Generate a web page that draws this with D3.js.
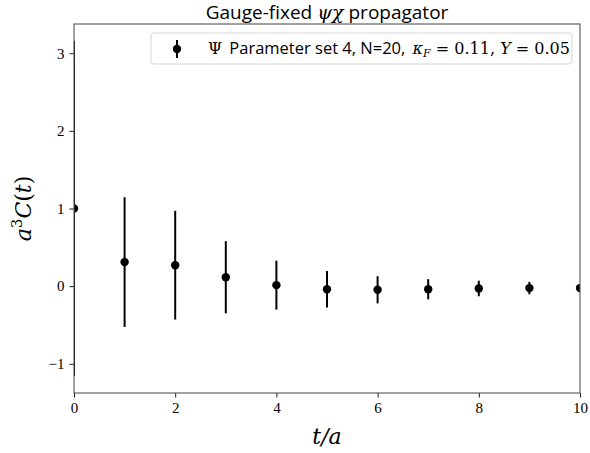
<!DOCTYPE html>
<html>
<head>
<meta charset="utf-8">
<script src="https://cdn.jsdelivr.net/npm/d3@7"></script>
<style>
  body { margin: 0; background: #fff; }
</style>
</head>
<body>
<svg width="590" height="453"></svg>
<script>
// data
const tValues = [0, 1, 2, 3, 4, 5, 6, 7, 8, 9, 10];
const cValues = [1.0, 0.31, 0.27, 0.115, 0.013, -0.04, -0.047, -0.04, -0.03, -0.025, -0.025];
const cErrors = [2.16, 0.835, 0.70, 0.465, 0.315, 0.235, 0.175, 0.13, 0.10, 0.08, 0.05];
const xTicks = [0, 2, 4, 6, 8, 10];
const yTicks = [-1, 0, 1, 2, 3];

const svg = d3.select('svg');
const margin = { top: 24, right: 10, bottom: 60, left: 74 };
const width = +svg.attr('width') - margin.left - margin.right;
const height = +svg.attr('height') - margin.top - margin.bottom;

// matplotlib style 5% margin around the error bars
const lo = d3.min(cValues.map((v, i) => v - cErrors[i]));
const hi = d3.max(cValues.map((v, i) => v + cErrors[i]));
const pad = (hi - lo) * 0.05;

const x = d3.scaleLinear().domain([0, 10]).range([0, width]);
const y = d3.scaleLinear().domain([lo - pad, hi + pad]).range([height, 0]);

const g = svg.append('g')
  .attr('transform', `translate(${margin.left},${margin.top})`);

g.append('defs').append('clipPath').attr('id', 'clip')
  .append('rect').attr('width', width).attr('height', height);

const plot = g.append('g').attr('clip-path', 'url(#clip)');

plot.selectAll('line.err')
  .data(tValues)
  .join('line')
  .attr('class', 'err')
  .attr('x1', d => x(d))
  .attr('x2', d => x(d))
  .attr('y1', (d, i) => y(cValues[i] - cErrors[i]))
  .attr('y2', (d, i) => y(cValues[i] + cErrors[i]))
  .attr('stroke', '#000')
  .attr('stroke-width', 2);

plot.selectAll('circle')
  .data(tValues)
  .join('circle')
  .attr('cx', d => x(d))
  .attr('cy', (d, i) => y(cValues[i]))
  .attr('r', 4.2)
  .attr('fill', '#000');

const xAxis = g.append('g')
  .attr('transform', `translate(0,${height})`)
  .call(d3.axisBottom(x).tickValues(xTicks).tickSize(4.5).tickPadding(5)
    .tickFormat(d3.format('d')));

const yAxis = g.append('g')
  .call(d3.axisLeft(y).tickValues(yTicks).tickSize(4.5).tickPadding(5)
    .tickFormat(d => d < 0 ? '\u2212' + Math.abs(d) : d));

[xAxis, yAxis].forEach(a => {
  a.attr('font-family', '"Liberation Serif", serif').attr('font-size', 15);
  a.select('.domain').remove();
  a.selectAll('.tick line').attr('stroke', '#000').attr('stroke-width', 0.9);
  a.selectAll('.tick text').attr('fill', '#000');
});

// frame
g.append('rect')
  .attr('width', width)
  .attr('height', height)
  .attr('fill', 'none')
  .attr('stroke', '#555')
  .attr('stroke-width', 1.1);

// title
const title = svg.append('text')
  .attr('x', margin.left + width / 2)
  .attr('y', 19)
  .attr('text-anchor', 'middle')
  .style('font-family', '"Open Sans", sans-serif')
  .style('font-size', '19px');
title.append('tspan').text('Gauge-fixed ');
title.append('tspan').style('font-family', '"DejaVu Serif", serif')
  .style('font-style', 'italic').style('font-size', '19px').text('ψχ');
title.append('tspan').text(' propagator');

// axis labels
svg.append('text')
  .attr('x', margin.left + width / 2)
  .attr('y', 444)
  .attr('text-anchor', 'middle')
  .style('font-family', '"DejaVu Serif", serif')
  .style('font-style', 'italic')
  .style('font-size', '22px')
  .text('t/a');

const yl = svg.append('text')
  .attr('transform', `translate(31,${margin.top + height / 2}) rotate(-90)`)
  .attr('text-anchor', 'middle')
  .style('font-family', '"DejaVu Serif", serif')
  .style('font-size', '22px');
yl.append('tspan').style('font-style', 'italic').text('a');
yl.append('tspan').attr('dy', -9).style('font-size', '15px').text('3');
yl.append('tspan').attr('dy', 9).style('font-style', 'italic').text('C');
yl.append('tspan').text('(');
yl.append('tspan').style('font-style', 'italic').text('t');
yl.append('tspan').text(')');

// legend
const lg = svg.append('g');
lg.append('rect')
  .attr('x', 151).attr('y', 33)
  .attr('width', 421).attr('height', 31)
  .attr('rx', 3)
  .attr('fill', '#fff')
  .attr('stroke', '#d5d5d5');
lg.append('line')
  .attr('x1', 177).attr('x2', 177).attr('y1', 40).attr('y2', 58)
  .attr('stroke', '#000').attr('stroke-width', 2);
lg.append('circle').attr('cx', 177).attr('cy', 49).attr('r', 4.2).attr('fill', '#000');

const lt = lg.append('text')
  .attr('x', 208).attr('y', 54)
  .style('font-family', '"Open Sans", sans-serif')
  .style('font-size', '16.5px');
const serif = () => lt.append('tspan').style('font-family', '"DejaVu Serif", serif').style('font-size', '16px');
serif().text('Ψ');
lt.append('tspan').attr('dx', 3).text(' Parameter set 4, N=20, ');
serif().attr('dx', 3).style('font-style', 'italic').text('κ');
serif().style('font-style', 'italic').style('font-size', '11px').attr('dy', 3).text('F');
serif().attr('dy', -3).text(' = 0.11, ');
serif().style('font-style', 'italic').text('Y');
serif().text(' = 0.05');
</script>
</body>
</html>
